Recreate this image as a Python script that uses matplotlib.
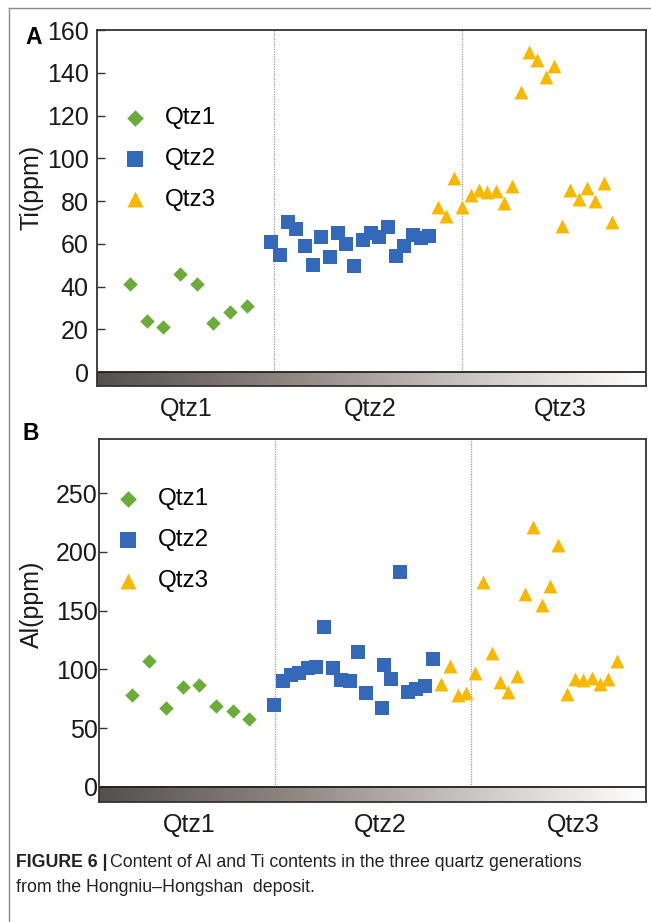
import numpy as np
import matplotlib
matplotlib.use('Agg')
import matplotlib.pyplot as plt
from matplotlib.colors import LinearSegmentedColormap
from matplotlib.lines import Line2D

plt.rcParams['font.family'] = ['Liberation Sans', 'DejaVu Sans']

# ---- data ----
generations = ['Qtz1', 'Qtz2', 'Qtz3']

# panel A: Ti (ppm)
ti_qtz1_x = [4, 6, 8, 10, 12, 14, 16, 18]
ti_qtz1 = [41, 24, 21, 46, 41, 23, 28, 31]
ti_qtz2_x = list(range(21, 41))
ti_qtz2 = [61, 55, 70, 67, 59, 50, 63, 54, 65, 60, 49.5, 62, 65, 63, 68, 54.5, 59, 64, 62.5, 63.5]
ti_qtz3_x = list(range(41, 63))
ti_qtz3 = [77, 73, 91, 77, 83, 85, 84, 84.5, 79, 87, 131, 149.5, 146, 138, 143,
           68.5, 85, 81, 86, 80, 88.5, 70]

# panel B: Al (ppm)
al_qtz1_x = [4, 6, 8, 10, 12, 14, 16, 18]
al_qtz1 = [78, 107, 67, 85, 87, 69, 65, 58]
al_qtz2_x = [21, 22, 23, 24, 25, 26, 27, 28, 29, 30, 31, 32, 33.9, 34.1, 35, 36, 37, 38, 39, 40]
al_qtz2 = [70, 90, 95, 97, 101, 102, 136, 101, 91, 90, 115, 80, 67, 104, 92, 183, 81, 83, 86, 109]
al_qtz3_x = list(range(41, 63))
al_qtz3 = [88, 103, 78, 80, 97, 174, 114, 89, 81, 94, 164, 221, 155, 171, 206,
           79, 92, 91, 93, 88, 92, 107]

green = '#6aab3a'
blue = '#3468b8'
gold = '#f9b800'
bar_cmap = LinearSegmentedColormap.from_list(
    'bar', [(0, '#54504e'), (0.35, '#8f8682'), (0.65, '#c6c0bc'), (1, '#ffffff')])

fig = plt.figure(figsize=(6.51, 9.22), dpi=100)


def build(rect, xlim, series, ylim, yticks, bar_depth, vlines, cat_x, leg_anchor, tickpad):
    ax = fig.add_axes(rect)
    ax.set_xlim(*xlim)
    ax.set_ylim(-bar_depth, ylim)
    # shaded generation bar under the zero line
    grad = np.linspace(0, 1, 256).reshape(1, -1)
    ax.imshow(grad, extent=(xlim[0], xlim[1], -bar_depth, 0), aspect='auto',
              cmap=bar_cmap, zorder=1)
    ax.axhline(0, color='#222222', lw=1.3, zorder=2)
    for v in vlines:
        ax.plot([v, v], [0, ylim], color='#9a9a9a', lw=0.9, ls=(0, (1, 1)), zorder=1)
    markers = [('D', 54, green), ('s', 90, blue), ('^', 100, gold)]
    for name, (sx, sy), (m, sz, c) in zip(generations, series, markers):
        ax.scatter(sx, sy, marker=m, s=sz, color=c, lw=0, label=name, zorder=3)
    ax.set_xticks([])
    ax.set_yticks(yticks)
    ax.tick_params(axis='y', direction='in', length=6, width=1.0, pad=tickpad,
                   labelsize=18, labelcolor='#1a1a1a', color='#333333')
    for s in ax.spines.values():
        s.set_color('#333333')
        s.set_linewidth(1.3)
    for name, cx in zip(generations, cat_x):
        ax.annotate(name, xy=(cx, 0), xycoords=('data', 'axes fraction'),
                    xytext=(0, -16.5), textcoords='offset points',
                    ha='center', va='center', fontsize=18, color='#1a1a1a')
    ax.legend(loc='upper left', bbox_to_anchor=leg_anchor, frameon=False,
              fontsize=17.5, handlelength=1.0, handletextpad=0.75, labelspacing=0.78,
              borderpad=0, borderaxespad=0, scatterpoints=1, markerscale=1.15)
    return ax


axA = build([97 / 651, 1 - 386 / 922, 549 / 651, 356 / 922], (0, 66.1),
            [(ti_qtz1_x, ti_qtz1), (ti_qtz2_x, ti_qtz2), (ti_qtz3_x, ti_qtz3)],
            160, np.arange(0, 161, 20), 6.5, [21.3, 44.0], [10.8, 32.9, 55.8],
            (0.047, 0.784), 6.0)

axB = build([99 / 651, 1 - 802 / 922, 547 / 651, 363 / 922], (0, 65.5),
            [(al_qtz1_x, al_qtz1), (al_qtz2_x, al_qtz2), (al_qtz3_x, al_qtz3)],
            296, np.arange(0, 251, 50), 12.8, [21.1, 44.6], [10.8, 33.7, 56.8],
            (0.03, 0.864), 1.0)

# axis titles and panel letters
fig.text(32 / 651, 1 - 187 / 922, 'Ti(ppm)', rotation=90, ha='center', va='center',
         fontsize=18, color='#1a1a1a')
fig.text(32 / 651, 1 - 604 / 922, 'Al(ppm)', rotation=90, ha='center', va='center',
         fontsize=18, color='#1a1a1a')
fig.text(25 / 651, 1 - 38 / 922, 'A', ha='left', va='center', fontsize=16.5,
         fontweight='bold')
fig.text(22 / 651, 1 - 433 / 922, 'B', ha='left', va='center', fontsize=16.5,
         fontweight='bold')

# outer frame (top and left edges visible)
fig.add_artist(Line2D([9 / 651, 9 / 651], [0, 1 - 8 / 922], transform=fig.transFigure,
                      color='#8a8a8a', lw=1.0))
fig.add_artist(Line2D([9 / 651, 1], [1 - 8 / 922, 1 - 8 / 922], transform=fig.transFigure,
                      color='#8a8a8a', lw=1.0))

# caption
t1 = fig.text(16 / 651, 1 - 862 / 922, 'FIGURE 6 |', ha='left', va='center',
              fontsize=12.8, fontweight='bold', color='#222222')
fig.canvas.draw()
bb = t1.get_window_extent()
fig.text((bb.x1 + 3) / 651, 1 - 862 / 922,
         'Content of Al and Ti contents in the three quartz generations',
         ha='left', va='center', fontsize=12.8, color='#222222')
fig.text(16 / 651, 1 - 887 / 922, 'from the Hongniu\u2013Hongshan  deposit.',
         ha='left', va='center', fontsize=12.8, color='#222222')

fig.savefig('out.png', dpi=100)
